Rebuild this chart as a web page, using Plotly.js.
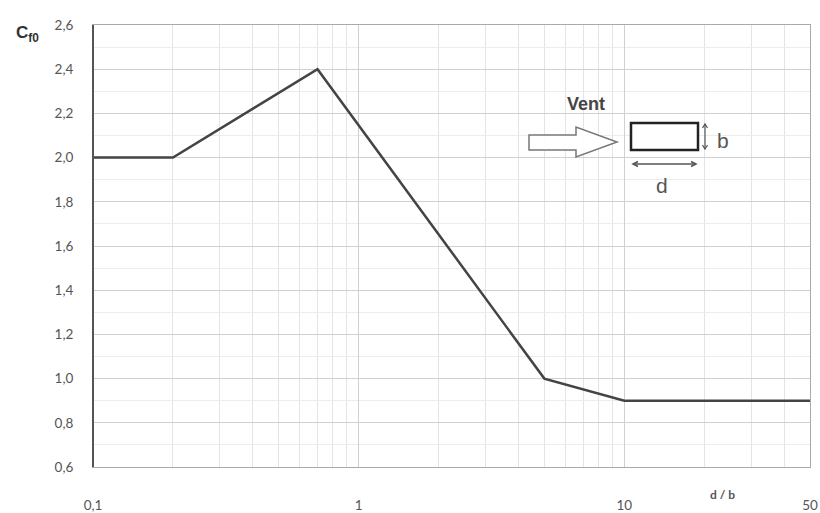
<!DOCTYPE html>
<html><head><meta charset="utf-8">
<script src="https://cdn.plot.ly/plotly-3.0.1.min.js"></script>
<style>html,body{margin:0;padding:0;background:#fff}#c{width:820px;height:513px}</style>
</head><body><div id="c"></div>
<script>
// Data
const ratio = [0.1, 0.2, 0.7, 5, 10, 50];          // d/b
const cf0   = [2.0, 2.0, 2.4, 1.0, 0.9, 0.9];      // c_f0
const xTickVals = [0.1, 1, 10, 50];
const xTickText = ['0,1', '1', '10', '50'];
const xMinorVals = [0.2,0.3,0.4,0.5,0.6,0.7,0.8,0.9,2,3,4,5,6,7,8,9,20,30,40];
const yTickVals = [0.6,0.8,1.0,1.2,1.4,1.6,1.8,2.0,2.2,2.4,2.6];
const yTickText = ['0,6','0,8','1,0','1,2','1,4','1,6','1,8','2,0','2,2','2,4','2,6'];
const yMinorVals = [0.7,0.9,1.1,1.3,1.5,1.7,1.9,2.1,2.3,2.5];

const L = 93, R = 810, T = 25, B = 467;
const W = 820, H = 513;
const px = x => (x - L) / (R - L);
const py = y => (B - y) / (B - T);

const font = {family: 'Lato, "Open Sans", sans-serif', size: 13.5, color: '#555'};

const trace = {
  x: ratio, y: cf0, type: 'scatter', mode: 'lines',
  line: {color: '#444', width: 2.5}, hoverinfo: 'skip'
};

function P(pts, close){ return 'M ' + pts.map(p => px(p[0]) + ' ' + py(p[1])).join(' L ') + (close ? ' Z' : ''); }
const ps = {type:'path', xref:'paper', yref:'paper'};

const shapes = [
  // hollow arrow
  Object.assign({path: P([[529,135],[576,135],[576,127],[617,142],[576,157],[576,150],[529,150]], true),
   line:{color:'#777', width:1.5}, fillcolor:'rgba(255,255,255,0.9)'}, ps),
  // rectangle
  {type:'rect', xref:'paper', yref:'paper', x0:px(631), x1:px(698), y0:py(150), y1:py(123),
   line:{color:'#222', width:2.5}, fillcolor:'#fff'},
  // b dimension line with heads
  Object.assign({path: P([[705,124],[705,149]]), line:{color:'#555', width:1.2}}, ps),
  Object.assign({path: P([[702.5,128],[705,124],[707.5,128]]), line:{color:'#555', width:1.2}}, ps),
  Object.assign({path: P([[702.5,145],[705,149],[707.5,145]]), line:{color:'#555', width:1.2}}, ps),
  // d dimension line with heads
  Object.assign({path: P([[633,164],[696,164]]), line:{color:'#555', width:1.5}}, ps),
  Object.assign({path: P([[638,161.5],[633,164],[638,166.5]]), line:{color:'#555', width:1.5}}, ps),
  Object.assign({path: P([[691,161.5],[696,164],[691,166.5]]), line:{color:'#555', width:1.5}}, ps),
  // left axis darker line
  {type:'line', xref:'paper', yref:'paper', x0:0, x1:0, y0:0, y1:1,
   line:{color:'#555', width:2}}
];

const mid = {xanchor:'center', yanchor:'middle', xref:'paper', yref:'paper', showarrow:false};
const annotations = [
  Object.assign({text:'Vent', x:px(586), y:py(104),
   font:{family:'"Liberation Sans", Arial, sans-serif', size:18, color:'#444', weight:'bold'}}, mid),
  Object.assign({text:'b', x:px(723), y:py(140),
   font:{family:'"Liberation Sans", Arial, sans-serif', size:21, color:'#555'}}, mid),
  Object.assign({text:'d', x:px(662), y:py(185),
   font:{family:'"Liberation Sans", Arial, sans-serif', size:21, color:'#555'}}, mid),
  Object.assign({text:'d / b', x:px(722), y:py(494),
   font:{family:'Lato, "Open Sans", sans-serif', size:12, color:'#555', weight:'bold'}}, mid),
  Object.assign({text:'C<sub>f0</sub>', x:px(27), y:py(34),
   font:{family:'"Liberation Sans", Arial, sans-serif', size:17, color:'#333', weight:'bold'}}, mid)
];

const layout = {
  width: W, height: H,
  margin: {l: L, r: W - R, t: T, b: H - B},
  paper_bgcolor: '#fff', plot_bgcolor: '#fff',
  showlegend: false,
  font: font,
  xaxis: {
    type: 'log', range: [Math.log10(0.1), Math.log10(50)],
    tickvals: xTickVals, ticktext: xTickText, ticks: '',
    ticklabelstandoff: 26,
    showgrid: true, gridcolor: '#d0d0d0', gridwidth: 1,
    minor: {tickvals: xMinorVals, showgrid: true, gridcolor: '#e4e4e4', gridwidth: 1, ticks: ''},
    showline: true, linecolor: '#aaa', linewidth: 1, mirror: true,
    zeroline: false, fixedrange: true
  },
  yaxis: {
    range: [0.6, 2.6], tickvals: yTickVals, ticktext: yTickText, ticks: '',
    ticklabelstandoff: 16,
    showgrid: true, gridcolor: '#d0d0d0', gridwidth: 1,
    minor: {tickvals: yMinorVals, showgrid: true, gridcolor: '#ececec', gridwidth: 1, ticks: ''},
    showline: true, linecolor: '#aaa', linewidth: 1, mirror: true,
    zeroline: false, fixedrange: true
  },
  shapes: shapes,
  annotations: annotations
};

Plotly.newPlot('c', [trace], layout, {displayModeBar: false, staticPlot: true});
</script></body></html>
